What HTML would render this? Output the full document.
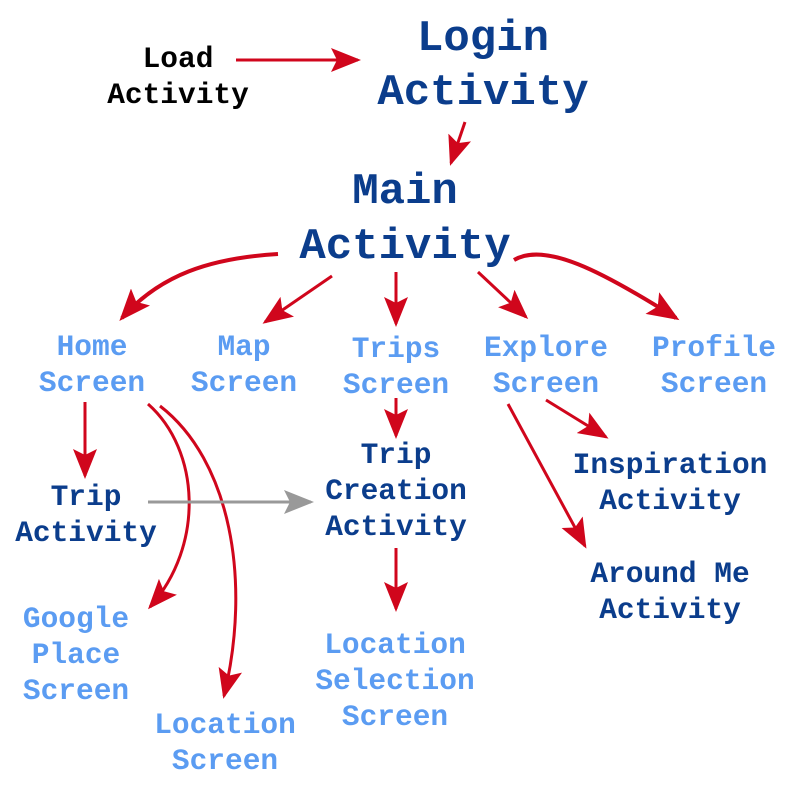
<!DOCTYPE html>
<html><head><meta charset="utf-8"><style>
html,body{margin:0;padding:0;background:#fff;width:800px;height:800px;overflow:hidden}
text{font-family:"Liberation Mono",monospace;font-weight:bold;text-anchor:middle}
.b{fill:#0b3d8c;font-size:29.5px}
.B{fill:#0b3d8c;font-size:44px}
.l{fill:#5b9cf2;font-size:29.5px}
.k{fill:#000;font-size:29.5px}
.r{stroke:#d0061c;stroke-width:3;fill:none}
.t{stroke:#d0061c;stroke-width:4;fill:none}
.g{stroke:#999;stroke-width:3;fill:none}
</style></head><body>
<svg width="800" height="800" viewBox="0 0 800 800">
<defs>
<marker id="ar" markerWidth="10" markerHeight="8" refX="9" refY="4" orient="auto" markerUnits="strokeWidth"><path d="M0,0 L10,4 L0,8 L2,4 Z" fill="#d0061c"/></marker>
<marker id="at" markerWidth="8" markerHeight="6.4" refX="7" refY="3.2" orient="auto" markerUnits="strokeWidth"><path d="M0,0 L8,3.2 L0,6.4 L1.6,3.2 Z" fill="#d0061c"/></marker>
<marker id="ag" markerWidth="10" markerHeight="8" refX="9" refY="4" orient="auto" markerUnits="strokeWidth"><path d="M0,0 L10,4 L0,8 L2,4 Z" fill="#999"/></marker>
</defs>
<text class="k" x="178" y="67">Load</text><text class="k" x="178" y="103">Activity</text>
<text class="B" x="483" y="50">Login</text><text class="B" x="483" y="104">Activity</text>
<text class="B" x="405" y="203">Main</text><text class="B" x="405" y="258">Activity</text>
<text class="l" x="92" y="355">Home</text><text class="l" x="92" y="391">Screen</text>
<text class="l" x="244" y="355">Map</text><text class="l" x="244" y="391">Screen</text>
<text class="l" x="396" y="357">Trips</text><text class="l" x="396" y="393">Screen</text>
<text class="l" x="546" y="356">Explore</text><text class="l" x="546" y="392">Screen</text>
<text class="l" x="714" y="356">Profile</text><text class="l" x="714" y="392">Screen</text>
<text class="b" x="86" y="505">Trip</text><text class="b" x="86" y="541">Activity</text>
<text class="b" x="396" y="463">Trip</text><text class="b" x="396" y="499">Creation</text><text class="b" x="396" y="535">Activity</text>
<text class="b" x="670" y="473">Inspiration</text><text class="b" x="670" y="509">Activity</text>
<text class="b" x="670" y="582">Around Me</text><text class="b" x="670" y="618">Activity</text>
<text class="l" x="76" y="627">Google</text><text class="l" x="76" y="663">Place</text><text class="l" x="76" y="699">Screen</text>
<text class="l" x="395" y="653">Location</text><text class="l" x="395" y="689">Selection</text><text class="l" x="395" y="725">Screen</text>
<text class="l" x="225" y="733">Location</text><text class="l" x="225" y="769">Screen</text>

<path class="r" marker-end="url(#ar)" d="M236,60 L358,60"/>
<path class="r" marker-end="url(#ar)" d="M465,122 L451,163"/>
<path class="t" marker-end="url(#at)" d="M278,254 C210,258 160,275 122,318"/>
<path class="r" marker-end="url(#ar)" d="M332,276 L265,322"/>
<path class="r" marker-end="url(#ar)" d="M396,272 L396,324"/>
<path class="r" marker-end="url(#ar)" d="M478,272 L526,317"/>
<path class="t" marker-end="url(#at)" d="M514,260 C545,242 600,270 676,318"/>
<path class="r" marker-end="url(#ar)" d="M85,402 L85,476"/>
<path class="r" marker-end="url(#ar)" d="M148,404 C200,450 205,545 150,607"/>
<path class="r" marker-end="url(#ar)" d="M160,406 C230,460 252,580 224,696"/>
<path class="g" marker-end="url(#ag)" d="M148,502 L311,502"/>
<path class="r" marker-end="url(#ar)" d="M396,398 L396,436"/>
<path class="r" marker-end="url(#ar)" d="M396,548 L396,609"/>
<path class="r" marker-end="url(#ar)" d="M546,400 L606,437"/>
<path class="r" marker-end="url(#ar)" d="M508,404 L585,546"/>
</svg>
</body></html>
